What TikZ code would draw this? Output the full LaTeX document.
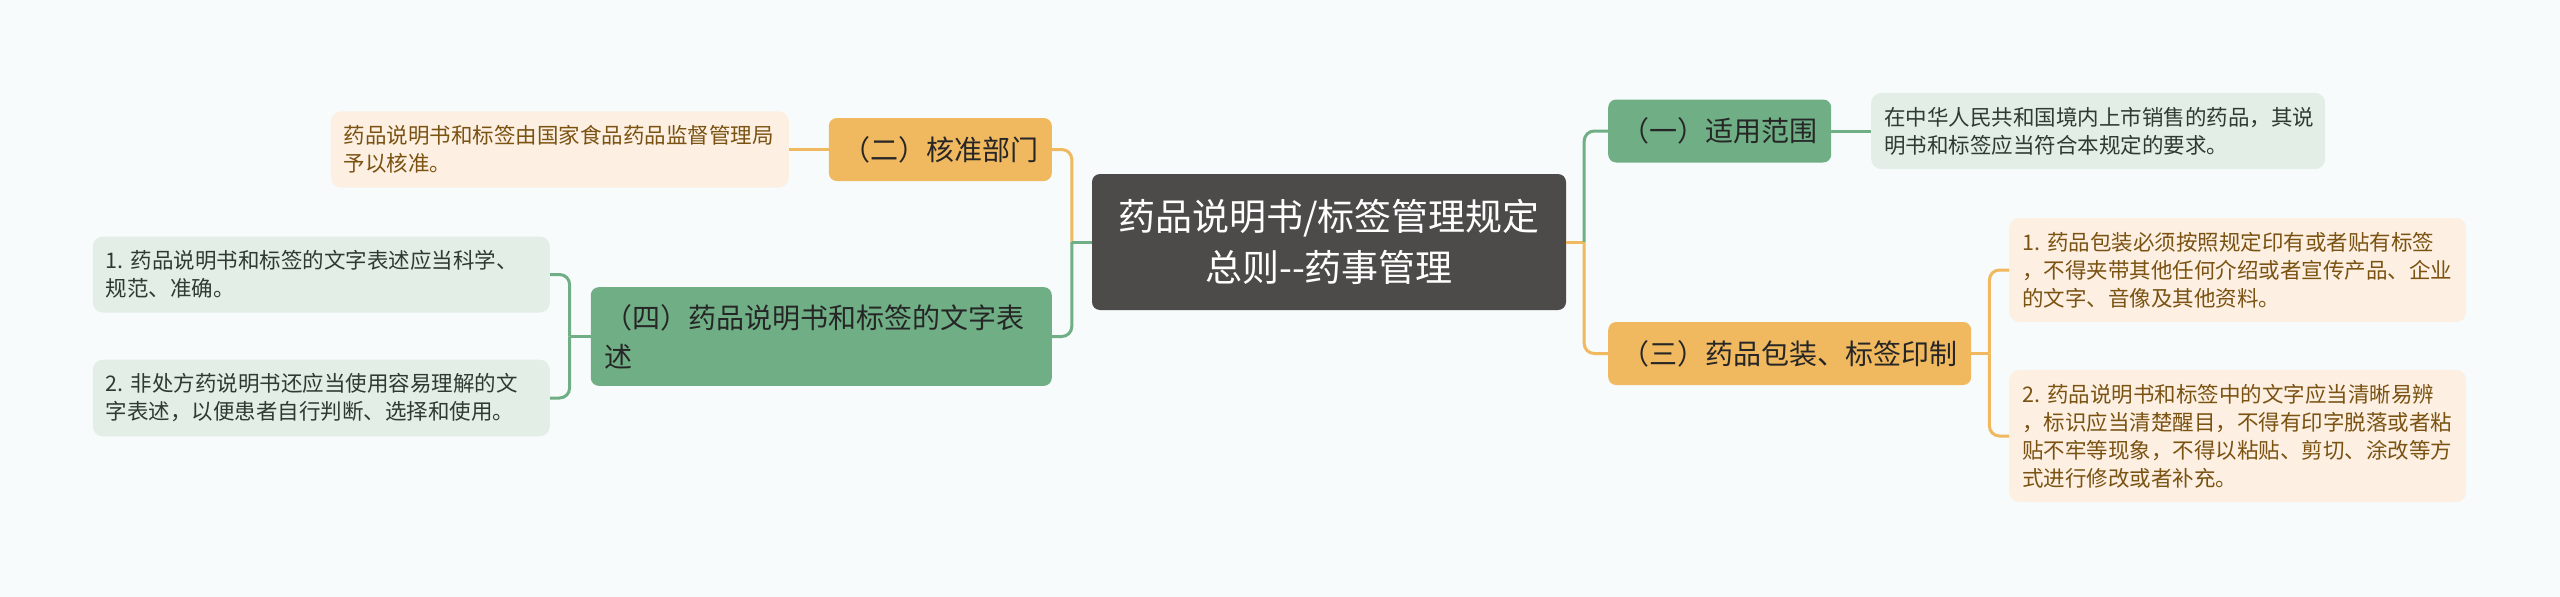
\documentclass[tikz,border=0pt]{standalone}
\usepackage{fontspec}
\setmainfont{Noto Sans CJK SC}
\definecolor{bgcol}{HTML}{F7FBFC}
\definecolor{rootcol}{HTML}{4D4A4A}
\definecolor{gmain}{HTML}{70AF86}
\definecolor{omain}{HTML}{F0B95F}
\definecolor{gsoft}{HTML}{E3EFE6}
\definecolor{osoft}{HTML}{FDF0E2}
\definecolor{topictext}{HTML}{262626}
\definecolor{gtext}{HTML}{2E3A32}
\definecolor{otext}{HTML}{7A5212}

\begin{document}
\frenchspacing
\begin{tikzpicture}[x=1pt,y=-1pt,
  rootbox/.style={fill=rootcol,text=white,rounded corners=8,minimum width=474,minimum height=136,
    align=center,inner sep=0,font=\fontsize{37}{51}\selectfont},
  topic/.style={rounded corners=8,minimum height=63,inner xsep=13.5,inner ysep=0,
    text=topictext,font=\fontsize{28}{39}\selectfont},
  gtopic/.style={topic,fill=gmain},
  otopic/.style={topic,fill=omain},
  leaf/.style={rounded corners=10,text width=431,inner xsep=13,inner ysep=14,align=left,
    font=\fontsize{21.5}{28}\selectfont},
  gleaf/.style={leaf,fill=gsoft,text=gtext},
  oleaf/.style={leaf,fill=osoft,text=otext},
  gline/.style={draw=gmain,line width=3,rounded corners=10},
  oline/.style={draw=omain,line width=3,rounded corners=10}]
\fill[bgcol] (0,0) rectangle (2560,597);
\useasboundingbox (0,0) rectangle (2560,597);

\node[rootbox] (root) at (1329,242) {药品说明书/标签管理规定\\总则{-}{-}药事管理};

\node[gtopic,anchor=west] (scope) at (1608,131) {（一）适用范围};
\node[gleaf,anchor=west,text width=428] (scopeText) at (1871,131)
  {在中华人民共和国境内上市销售的药品，其说\\明书和标签应当符合本规定的要求。};
\node[otopic,anchor=west] (print) at (1608,353.5) {（三）药品包装、标签印制};
\node[oleaf,anchor=west] (printA) at (2009,270)
  {1. 药品包装必须按照规定印有或者贴有标签\\，不得夹带其他任何介绍或者宣传产品、企业\\的文字、音像及其他资料。};
\node[oleaf,anchor=west] (printB) at (2009,436)
  {2. 药品说明书和标签中的文字应当清晰易辨\\，标识应当清楚醒目，不得有印字脱落或者粘\\贴不牢等现象，不得以粘贴、剪切、涂改等方\\式进行修改或者补充。};

\node[otopic,anchor=east] (approve) at (1052,149.5) {（二）核准部门};
\node[oleaf,anchor=east,text width=432] (approveText) at (789,149.5)
  {药品说明书和标签由国家食品药品监督管理局\\予以核准。};
\node[gtopic,anchor=east,text width=434,align=left,inner ysep=17] (wording) at (1052,336.5)
  {（四）药品说明书和标签的文字表\\述};
\node[gleaf,anchor=east] (wordingA) at (550,274.5)
  {1. 药品说明书和标签的文字表述应当科学、\\规范、准确。};
\node[gleaf,anchor=east] (wordingB) at (550,398)
  {2. 非处方药说明书还应当使用容易理解的文\\字表述，以便患者自行判断、选择和使用。};

\coordinate (rootR) at ([xshift=18]root.east);
\coordinate (rootL) at ([xshift=-20]root.west);
\coordinate (printR) at ([xshift=18]print.east);
\coordinate (wordingL) at ([xshift=-21]wording.west);

\draw[oline] (root.east) -- (rootR);
\draw[gline] (rootR) |- (scope.west);
\draw[oline] (rootR) |- (print.west);
\draw[gline] (scope.east) -- (scopeText.west);
\draw[oline] (print.east) -- (printR);
\draw[oline] (printR) |- (printA.west);
\draw[oline] (printR) |- (printB.west);

\draw[oline] (rootL) |- (approve.east);
\draw[gline] (root.west) -- (rootL);
\draw[gline] (rootL) |- (wording.east);
\draw[oline] (approve.west) -- (approveText.east);
\draw[gline] (wording.west) -- (wordingL);
\draw[gline] (wordingL) |- (wordingA.east);
\draw[gline] (wordingL) |- (wordingB.east);
\end{tikzpicture}
\end{document}
